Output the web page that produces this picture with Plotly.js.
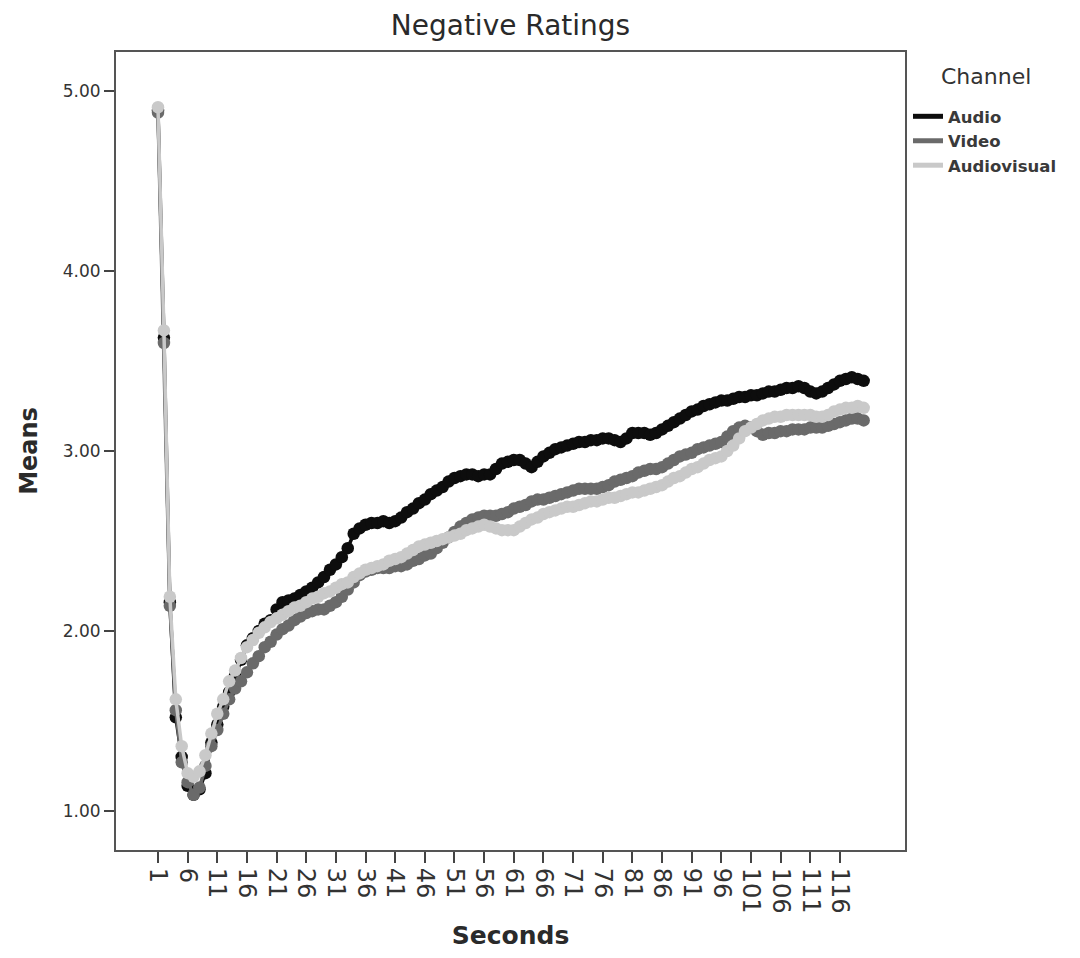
<!DOCTYPE html>
<html>
<head>
<meta charset="utf-8">
<script src="https://cdn.plot.ly/plotly-3.0.1.min.js"></script>
<style>html,body{margin:0;padding:0;background:#fff;}#chart{width:1080px;height:958px;}</style>
</head>
<body>
<div id="chart"></div>
<script>
// Seconds (category positions 1..120)
const seconds = Array.from({length: 120}, (_, i) => i + 1);

const channelNames = ['Audio', 'Video', 'Audiovisual'];
const legendTitle = 'Channel';

const audioMeans = [
  4.89, 3.63, 2.16, 1.52, 1.30, 1.14, 1.09, 1.12, 1.21, 1.38,
  1.48, 1.58, 1.66, 1.75, 1.84, 1.92, 1.96, 2.00, 2.04, 2.06,
  2.12, 2.16, 2.17, 2.18, 2.20, 2.22, 2.24, 2.27, 2.30, 2.34,
  2.37, 2.41, 2.46, 2.54, 2.57, 2.59, 2.60, 2.60, 2.61, 2.60,
  2.61, 2.63, 2.66, 2.68, 2.71, 2.73, 2.76, 2.78, 2.80, 2.83,
  2.85, 2.86, 2.87, 2.87, 2.86, 2.87, 2.87, 2.90, 2.93, 2.94,
  2.95, 2.95, 2.93, 2.91, 2.94, 2.97, 2.99, 3.01, 3.02, 3.03,
  3.04, 3.05, 3.05, 3.06, 3.06, 3.07, 3.07, 3.06, 3.05, 3.07,
  3.10, 3.10, 3.10, 3.09, 3.10, 3.12, 3.14, 3.16, 3.18, 3.20,
  3.22, 3.23, 3.25, 3.26, 3.27, 3.28, 3.28, 3.29, 3.30, 3.30,
  3.31, 3.31, 3.32, 3.33, 3.33, 3.34, 3.35, 3.35, 3.36, 3.35,
  3.33, 3.32, 3.33, 3.35, 3.37, 3.39, 3.40, 3.41, 3.40, 3.39
];

const videoMeans = [
  4.88, 3.60, 2.14, 1.56, 1.27, 1.16, 1.09, 1.13, 1.25, 1.36,
  1.45, 1.54, 1.62, 1.68, 1.72, 1.77, 1.82, 1.86, 1.91, 1.94,
  1.98, 2.01, 2.03, 2.06, 2.08, 2.10, 2.11, 2.12, 2.12, 2.14,
  2.16, 2.19, 2.23, 2.27, 2.31, 2.33, 2.34, 2.35, 2.35, 2.35,
  2.36, 2.36, 2.37, 2.39, 2.40, 2.42, 2.43, 2.46, 2.49, 2.52,
  2.55, 2.58, 2.60, 2.62, 2.63, 2.64, 2.64, 2.64, 2.65, 2.66,
  2.68, 2.69, 2.70, 2.72, 2.73, 2.73, 2.74, 2.75, 2.76, 2.77,
  2.78, 2.79, 2.79, 2.79, 2.79, 2.80, 2.81, 2.83, 2.84, 2.85,
  2.86, 2.88, 2.89, 2.90, 2.90, 2.91, 2.93, 2.95, 2.97, 2.98,
  2.99, 3.01, 3.02, 3.03, 3.04, 3.05, 3.08, 3.11, 3.13, 3.14,
  3.13, 3.11, 3.09, 3.10, 3.10, 3.11, 3.11, 3.12, 3.12, 3.12,
  3.13, 3.13, 3.13, 3.14, 3.15, 3.16, 3.17, 3.18, 3.18, 3.17
];

const audiovisualMeans = [
  4.91, 3.67, 2.19, 1.62, 1.36, 1.21, 1.19, 1.22, 1.31, 1.43,
  1.54, 1.62, 1.72, 1.78, 1.85, 1.91, 1.95, 1.99, 2.02, 2.05,
  2.07, 2.09, 2.11, 2.13, 2.14, 2.16, 2.18, 2.19, 2.21, 2.22,
  2.24, 2.26, 2.27, 2.30, 2.32, 2.34, 2.35, 2.36, 2.37, 2.39,
  2.40, 2.41, 2.43, 2.45, 2.47, 2.48, 2.49, 2.50, 2.51, 2.52,
  2.53, 2.54, 2.56, 2.57, 2.58, 2.59, 2.58, 2.57, 2.56, 2.56,
  2.56, 2.58, 2.60, 2.62, 2.63, 2.65, 2.66, 2.67, 2.68, 2.69,
  2.69, 2.70, 2.71, 2.72, 2.72, 2.73, 2.74, 2.74, 2.75, 2.76,
  2.77, 2.77, 2.78, 2.79, 2.80, 2.81, 2.83, 2.85, 2.86, 2.88,
  2.90, 2.91, 2.93, 2.95, 2.96, 2.97, 3.00, 3.03, 3.07, 3.11,
  3.13, 3.15, 3.17, 3.18, 3.19, 3.19, 3.20, 3.20, 3.20, 3.20,
  3.20, 3.19, 3.19, 3.20, 3.22, 3.23, 3.24, 3.24, 3.25, 3.24
];

const xTickVals = [1, 6, 11, 16, 21, 26, 31, 36, 41, 46, 51, 56, 61, 66, 71, 76, 81, 86, 91, 96, 101, 106, 111, 116];
const xTickLabels = ['1', '6', '11', '16', '21', '26', '31', '36', '41', '46', '51', '56', '61', '66', '71', '76', '81', '86', '91', '96', '101', '106', '111', '116'];
const yTickVals = [1, 2, 3, 4, 5];
const yTickLabels = ['1.00', '2.00', '3.00', '4.00', '5.00'];

const colors = ['#0d0d0d', '#6a6a6a', '#c9c9c9'];
const series = [audioMeans, videoMeans, audiovisualMeans];

const FONT = 'DejaVu Sans, Verdana, sans-serif';

const traces = [];
series.forEach((vals, i) => {
  traces.push({
    x: seconds, y: vals, type: 'scatter', mode: 'lines+markers',
    name: channelNames[i], showlegend: false,
    line: {color: colors[i], width: 3.5},
    marker: {color: colors[i], size: 12.5, line: {width: 0}},
    hoverinfo: 'x+y+name'
  });
});
// legend entries (thick line swatches)
series.forEach((vals, i) => {
  traces.push({
    x: [null], y: [null], type: 'scatter', mode: 'lines',
    name: channelNames[i], showlegend: true,
    line: {color: colors[i], width: 5}
  });
});

const layout = {
  width: 1080, height: 958,
  paper_bgcolor: '#ffffff', plot_bgcolor: '#ffffff',
  margin: {l: 116, r: 175, t: 52, b: 108},
  font: {family: FONT, color: '#333333'},
  title: {
    text: 'Negative Ratings',
    font: {family: FONT, size: 28, color: '#2a2a2a'},
    x: 0.5, xref: 'paper', xanchor: 'center',
    y: 0.974, yref: 'container', yanchor: 'middle'
  },
  xaxis: {
    range: [-6.08, 126.97],
    tickmode: 'array', tickvals: xTickVals, ticktext: xTickLabels,
    tickangle: 90,
    ticks: 'outside', ticklen: 11, tickwidth: 2, tickcolor: '#444',
    tickfont: {family: FONT, size: 24, color: '#333'},
    showline: true, linecolor: '#555', linewidth: 2, mirror: true,
    showgrid: false, zeroline: false,
    title: {text: 'Seconds', font: {family: FONT, size: 25, color: '#2a2a2a', weight: 'bold'}, standoff: 14}
  },
  yaxis: {
    range: [0.783, 5.217],
    tickmode: 'array', tickvals: yTickVals, ticktext: yTickLabels,
    ticks: 'outside', ticklen: 10, tickwidth: 2, tickcolor: '#444',
    tickfont: {family: FONT, size: 17, color: '#333'},
    showline: true, linecolor: '#555', linewidth: 2, mirror: true,
    showgrid: false, zeroline: false,
    title: {text: 'Means', font: {family: FONT, size: 24, color: '#2a2a2a', weight: 'bold'}, standoff: 18}
  },
  legend: {
    x: 1.0 + 3 / 789, xanchor: 'left', y: 0.941, yanchor: 'top',
    bgcolor: 'rgba(0,0,0,0)', borderwidth: 0,
    font: {family: FONT, size: 16.5, color: '#3a3a3a', weight: 'bold'},
    tracegroupgap: 0, itemwidth: 30
  },
  annotations: [{
    text: legendTitle, xref: 'paper', yref: 'paper',
    x: 1.0 + (986 - 905) / 789, y: 1 - (77 - 52) / 798,
    xanchor: 'center', yanchor: 'middle', showarrow: false,
    font: {family: FONT, size: 22, color: '#333'}
  }],
  showlegend: true
};

Plotly.newPlot('chart', traces, layout, {displayModeBar: false, staticPlot: true});
</script>
</body>
</html>
